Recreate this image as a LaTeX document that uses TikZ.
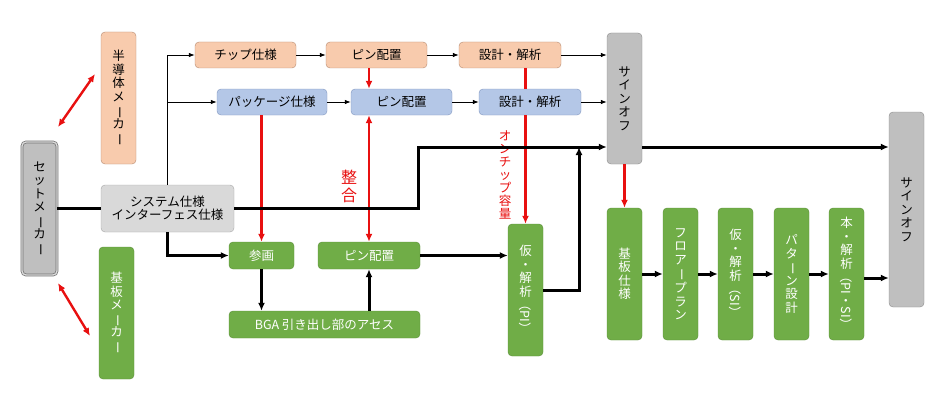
\documentclass[tikz,border=0pt]{standalone}
\usepackage{fontspec}
\setmainfont{Noto Sans CJK JP}
\usepackage{graphicx}
\usetikzlibrary{arrows.meta, positioning}

\definecolor{orangefill}{HTML}{F8CBAD}
\definecolor{orangeline}{HTML}{B58A70}
\definecolor{bluefill}{HTML}{B4C7E7}
\definecolor{blueline}{HTML}{8096BE}
\definecolor{greenfill}{HTML}{70AD47}
\definecolor{greenline}{HTML}{5B8E39}
\definecolor{grayfill}{HTML}{BFBFBF}
\definecolor{grayline}{HTML}{8C8C8C}
\definecolor{lightfill}{HTML}{D9D9D9}
\definecolor{lightline}{HTML}{A6A6A6}
\definecolor{redline}{HTML}{E81010}

\newcommand{\tatebou}{\rotatebox[origin=c]{-90}{ー}}
\newcommand{\yoko}[1]{\rotatebox[origin=c]{-90}{#1}}

\begin{document}
\begin{tikzpicture}[x=1pt, y=-1pt,
  box/.style={rounded corners=4pt, inner sep=0pt, align=center, font=\fontsize{12.5}{13.5}\selectfont},
  orangebox/.style={box, draw=orangeline, fill=orangefill},
  bluebox/.style={box, draw=blueline, fill=bluefill},
  greenbox/.style={box, draw=greenline, fill=greenfill, text=white},
  graybox/.style={box, draw=grayline, fill=grayfill},
  thinarrow/.style={line width=0.8pt, -{Latex[length=6pt,width=4.5pt]}},
  thickline/.style={line width=3pt},
  thickarrow/.style={thickline, -{Latex[length=8pt,width=7pt]}},
  redarrow/.style={redline, line width=2.4pt, -{Latex[length=8pt,width=7pt]}},
  redboth/.style={redline, line width=2.4pt, {Latex[length=8pt,width=7pt]}-{Latex[length=8pt,width=7pt]}}]
  \useasboundingbox (0,0) rectangle (934,412);

  % メーカー
  \node[graybox, draw=grayline!80!black, line width=0.7pt, double=lightfill, double distance=1.4pt,
    minimum width=35pt, minimum height=133pt] (setmaker) at (39.5,208.5)
    {セ\\ッ\\ト\\メ\\\tatebou\\カ\\\tatebou};
  \node[orangebox, minimum width=35pt, minimum height=132pt] (semimaker) at (118.5,98)
    {半\\導\\体\\メ\\\tatebou\\カ\\\tatebou};
  \node[greenbox, minimum width=35pt, minimum height=132pt] (boardmaker) at (116.5,313)
    {基\\板\\メ\\\tatebou\\カ\\\tatebou};
  \coordinate (semiA) at (58,127);
  \coordinate (semiB) at (95,74);
  \coordinate (boardA) at (58,283);
  \coordinate (boardB) at (90,336);
  \draw[redboth] (semiA) -- (semiB);
  \draw[redboth] (boardA) -- (boardB);

  % システム仕様
  \node[box, draw=lightline, fill=lightfill, minimum width=133pt, minimum height=47pt] (syspec)
    at (167.5,208.5) {システム仕様\\インターフェス仕様};

  % チップ側
  \node[orangebox, minimum width=101pt, minimum height=26pt] (chip) at (245.5,55) {チップ仕様};
  \node[orangebox, minimum width=101pt, minimum height=26pt] (pinA) at (376.5,55) {ピン配置};
  \node[orangebox, minimum width=102pt, minimum height=26pt] (designA) at (510,55) {設計・解析};

  % パッケージ側
  \node[bluebox, minimum width=110pt, minimum height=26pt] (pkg) at (272,102) {パッケージ仕様};
  \node[bluebox, minimum width=101pt, minimum height=26pt] (pinB) at (401.5,102) {ピン配置};
  \node[bluebox, minimum width=102pt, minimum height=26pt] (designB) at (530,102) {設計・解析};

  % サインオフ
  \node[graybox, minimum width=35pt, minimum height=131pt] (signoffA) at (624.5,98.5)
    {サ\\イ\\ン\\オ\\フ};
  \node[graybox, minimum width=35pt, minimum height=195pt] (signoffB) at (906.5,209.5)
    {サ\\イ\\ン\\オ\\フ};

  % 基板側
  \node[greenbox, minimum width=65pt, minimum height=27pt] (sanga) at (261.5,255.5) {参画};
  \node[greenbox, minimum width=102pt, minimum height=27pt] (pinC) at (369,255.5) {ピン配置};
  \node[greenbox, minimum width=191pt, minimum height=27pt] (bga) at (324.5,324.5) {BGA 引き出し部のアセス};
  \node[greenbox, minimum width=35pt, minimum height=132pt] (karipi) at (525.5,290)
    {仮\\・\\解\\析\\\yoko{（PI）}};
  \node[greenbox, minimum width=35pt, minimum height=132pt] (kiban) at (624.5,274)
    {基\\板\\仕\\様};
  \node[greenbox, minimum width=35pt, minimum height=132pt] (floor) at (680.5,274)
    {フ\\ロ\\ア\\\tatebou\\プ\\ラ\\ン};
  \node[greenbox, minimum width=35pt, minimum height=132pt] (karisi) at (735.5,274)
    {仮\\・\\解\\析\\\yoko{（SI）}};
  \node[greenbox, minimum width=35pt, minimum height=132pt] (pattern) at (791.5,274)
    {パ\\タ\\\tatebou\\ン\\設\\計};
  \node[greenbox, minimum width=35pt, minimum height=132pt] (honkai) at (846.5,274)
    {本\\・\\解\\析\\\yoko{（PI・SI）}};

  % 赤いラベル
  \node[text=redline, font=\fontsize{16}{18}\selectfont, align=center, inner sep=0pt] (seigo) at (349,186) {整\\合};
  \node[text=redline, font=\fontsize{12.5}{13}\selectfont, align=center, inner sep=0pt] (onchip) at (505,175)
    {オ\\ン\\チ\\ッ\\プ\\容\\量};

  % 細い矢印
  \draw[thinarrow] (syspec.north) |- (chip.west);
  \draw[thinarrow] (syspec.north |- pkg.west) -- (pkg.west);
  \draw[thinarrow] (chip) -- (pinA);
  \draw[thinarrow] (pinA) -- (designA);
  \draw[thinarrow] (designA.east) -- (designA.east -| signoffA.west);
  \draw[thinarrow] (pkg) -- (pinB);
  \draw[thinarrow] (pinB) -- (designB);
  \draw[thinarrow] (designB.east) -- (designB.east -| signoffA.west);

  % 赤い矢印
  \draw[redarrow] (pinA.south -| pinC.north) -- (pinB.north -| pinC.north);
  \draw[redboth] (pinB.south -| pinC.north) -- (pinC.north);
  \draw[redarrow] (pkg.south -| sanga.north) -- (sanga.north);
  \draw[redline, line width=2.4pt] (designA.south -| karipi.north) -- (designB.north -| karipi.north);
  \draw[redarrow] (designB.south -| karipi.north) -- (karipi.north);
  \draw[redarrow] (signoffA.south) -- (kiban.north);

  % 太い矢印
  \coordinate (jog) at (418,147);
  \coordinate (rise) at (579,147);
  \draw[thickline] (setmaker.east) -- (syspec.west);
  \draw[thickarrow] (syspec.east) -| (jog) -- (jog -| signoffA.west);
  \draw[thickarrow] (syspec.south) |- (sanga.west);
  \draw[thickarrow] (sanga.south) -- (sanga.south |- bga.north);
  \draw[thickarrow] (bga.north -| pinC.south) -- (pinC.south);
  \draw[thickarrow] (pinC.east) -- (pinC.east -| karipi.west);
  \draw[thickarrow] (karipi.east) -| (rise);
  \draw[thickarrow] (jog -| signoffA.east) -- (jog -| signoffB.west);
  \draw[thickarrow] (kiban) -- (floor);
  \draw[thickarrow] (floor) -- (karisi);
  \draw[thickarrow] (karisi) -- (pattern);
  \draw[thickarrow] (pattern) -- (honkai);
  \draw[thickarrow] ([yshift=-4pt]honkai.east) -- ([yshift=-4pt]honkai.east -| signoffB.west);
\end{tikzpicture}
\end{document}
